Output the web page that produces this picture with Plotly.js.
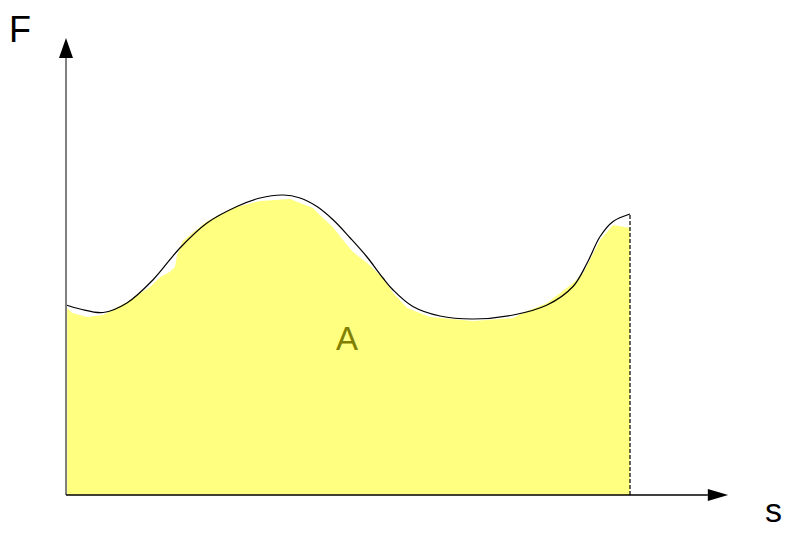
<!DOCTYPE html>
<html>
<head>
<meta charset="utf-8">
<script src="https://cdn.plot.ly/plotly-3.0.1.min.js"></script>
<style>
  html, body { margin: 0; padding: 0; background: #ffffff; }
  #chart { width: 786px; height: 534px; }
</style>
</head>
<body>
<div id="chart"></div>
<script>
// Force curve F(s)
const curveS = [0, 0.25, 0.66, 1.08, 1.54, 2.02, 2.5, 3.03, 3.44, 3.85, 4.15, 4.45, 4.74, 5.04, 5.33, 5.62, 5.8, 6.15, 6.63, 7.22, 7.93, 8.53, 8.99, 9.24, 9.47, 9.7, 10];
const curveF = [3.8, 3.72, 3.65, 3.84, 4.3, 4.94, 5.44, 5.77, 5.94, 6.0, 5.94, 5.77, 5.5, 5.14, 4.77, 4.34, 4.1, 3.77, 3.58, 3.52, 3.6, 3.8, 4.17, 4.64, 5.17, 5.47, 5.62];

// Hand-shaded work area A under the curve (top edge)
const areaS = [0.02, 0.11, 0.37, 0.66, 1.08, 1.49, 1.67, 1.84, 1.93, 1.97, 2.07, 2.48, 2.96, 3.44, 3.97, 4.15, 4.38, 4.5, 4.73, 4.91, 5.09, 5.34, 5.62, 5.8, 6.05, 6.45, 7.22, 7.93, 8.1, 8.53, 8.99, 9.17, 9.24, 9.47, 9.7, 10];
const areaF = [3.74, 3.64, 3.56, 3.6, 3.86, 4.16, 4.36, 4.46, 4.56, 4.8, 5.08, 5.46, 5.74, 5.88, 5.92, 5.84, 5.74, 5.6, 5.36, 5.1, 4.86, 4.64, 4.34, 4.04, 3.74, 3.56, 3.48, 3.54, 3.64, 3.84, 4.24, 4.44, 4.6, 5.1, 5.4, 5.34];

// Labels
const axisLabelS = 's';
const axisLabelF = 'F';
const areaLabel = 'A';

const sEnd = curveS[curveS.length - 1];
const fEnd = curveF[curveF.length - 1];

// Close the shaded region down to the s axis
const fillS = areaS.concat([sEnd, areaS[0]]);
const fillF = areaF.concat([0, 0]);

const traces = [
  {
    x: fillS, y: fillF, type: 'scatter', mode: 'lines',
    fill: 'toself', fillcolor: '#ffff80',
    line: { width: 0, color: 'rgba(0,0,0,0)' },
    hoverinfo: 'skip', showlegend: false
  },
  {
    x: curveS, y: curveF, type: 'scatter', mode: 'lines',
    line: { color: '#000000', width: 1.2, shape: 'spline', smoothing: 1 },
    showlegend: false
  },
  {
    x: [sEnd, sEnd], y: [0, fEnd], type: 'scatter', mode: 'lines',
    line: { color: '#000000', width: 1.2, dash: '4px,2px' },
    showlegend: false
  }
];

// Geometry of the axes drawn as arrows
const sMax = 11.38, sTip = 11.74, fMax = 8.74, fTip = 9.14;
const hw = 0.124, hh = 0.12;

const shapes = [
  { type: 'line', xref: 'x', yref: 'y', x0: 0, y0: 0, x1: 0, y1: fMax,
    line: { color: '#808080', width: 2 }, layer: 'above' },
  { type: 'path', xref: 'x', yref: 'y',
    path: `M ${-hw} ${fMax} L ${hw} ${fMax} L 0 ${fTip} Z`,
    fillcolor: '#000000', line: { width: 0 }, layer: 'above' },
  { type: 'line', xref: 'x', yref: 'y', x0: 0, y0: 0, x1: sMax, y1: 0,
    line: { color: '#000000', width: 1.5 }, layer: 'above' },
  { type: 'path', xref: 'x', yref: 'y',
    path: `M ${sMax} ${-hh} L ${sMax} ${hh} L ${sTip} 0 Z`,
    fillcolor: '#000000', line: { width: 0 }, layer: 'above' }
];

const family = 'Liberation Sans, Arial, sans-serif';

const annotations = [
  { x: -0.816, y: 9.32, xref: 'x', yref: 'y', text: axisLabelF, showarrow: false,
    font: { family: family, size: 36, color: '#000000' } },
  { x: 12.55, y: 0.005, xref: 'x', yref: 'paper', yanchor: 'bottom',
    text: axisLabelS, showarrow: false,
    font: { family: family, size: 34, color: '#000000' } },
  { x: 4.99, y: 3.14, xref: 'x', yref: 'y', text: areaLabel, showarrow: false,
    font: { family: family, size: 33, color: '#808000' } }
];

const layout = {
  width: 786, height: 534,
  margin: { l: 0, r: 0, t: 0, b: 0, pad: 0 },
  paper_bgcolor: '#ffffff', plot_bgcolor: '#ffffff',
  xaxis: { range: [-1.1702, 12.766], visible: false, fixedrange: true },
  yaxis: { range: [-0.78, 9.9], visible: false, fixedrange: true },
  shapes: shapes,
  annotations: annotations,
  showlegend: false
};

Plotly.newPlot('chart', traces, layout, { displayModeBar: false, staticPlot: true });
</script>
</body>
</html>
